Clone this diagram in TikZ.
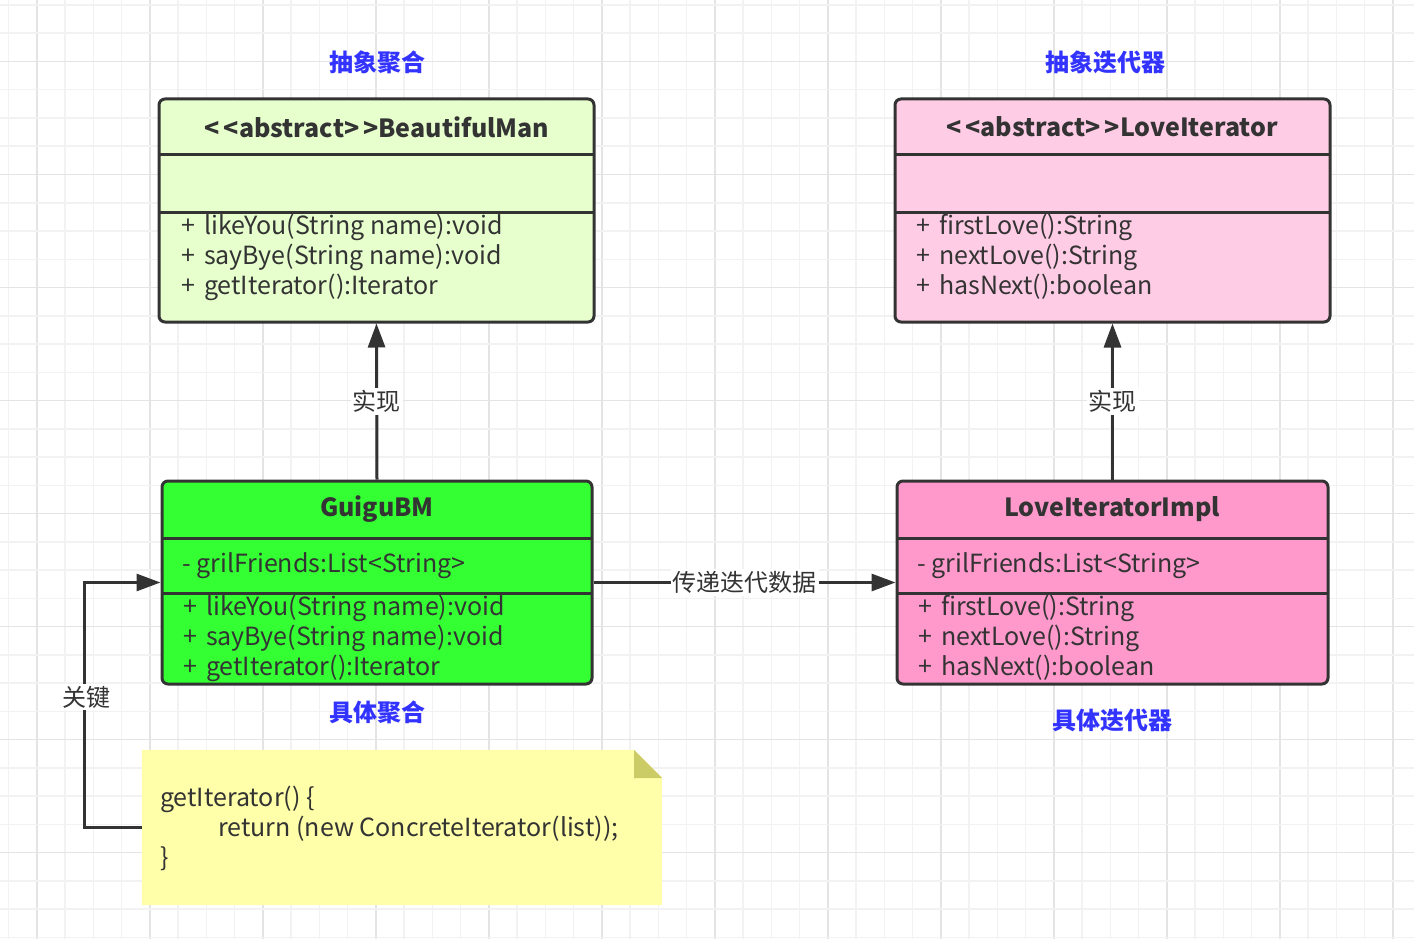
\documentclass[tikz,border=0pt]{standalone}
\usepackage{fontspec}
\setmainfont{Noto Sans CJK SC}
\usetikzlibrary{arrows.meta,positioning}
\definecolor{gridminor}{HTML}{F2F2F2}
\definecolor{gridmajor}{HTML}{E4E4E4}
\definecolor{umlline}{HTML}{333333}
\definecolor{abscls}{HTML}{E6FFCC}
\definecolor{absitr}{HTML}{FFCCE6}
\definecolor{concls}{HTML}{33FF33}
\definecolor{conitr}{HTML}{FF99CC}
\definecolor{notefill}{HTML}{FFFFAA}
\definecolor{notefold}{HTML}{CCCC66}
\definecolor{tagblue}{HTML}{3333FF}
\newcommand*{\fnt}{\fontsize{25}{30}\selectfont}
\newcommand*{\pl}{+\hspace{9pt}}
\tikzset{
  umlbox/.style={draw=umlline, line width=3pt, rounded corners=6pt, inner sep=0pt},
  umlsep/.style={draw=umlline, line width=3pt},
  umltitle/.style={font=\fnt\bfseries, text=umlline},
  umltext/.style={font=\fnt, text=umlline, align=left, anchor=west, inner sep=0pt},
  tag/.style={font=\fontsize{24}{28}\selectfont\bfseries, text=tagblue},
  link/.style={draw=umlline, line width=3pt, -{Triangle[length=24pt,width=17pt]}},
  linklabel/.style={font=\fontsize{24}{28}\selectfont, text=umlline, fill=white, inner sep=2pt},
}
\begin{document}
\begin{tikzpicture}[x=1pt, y=-1pt]
    \useasboundingbox (0,0) rectangle (1414,939);
    \fill [white] (0,0) rectangle (1414,939);
    % grid
    \foreach \i in {0,...,49} {
        \pgfmathtruncatemacro{\m}{mod(\i,4)}
        \ifnum\m=1 \def\gc{gridmajor}\else \def\gc{gridminor}\fi
        \draw [\gc, line width=1.5pt] ({8.5+28.25*\i},0) -- ++(0,939);
    }
    \foreach \j in {0,...,33} {
        \pgfmathtruncatemacro{\m}{mod(\j,4)}
        \ifnum\m=2 \def\gc{gridmajor}\else \def\gc{gridminor}\fi
        \draw [\gc, line width=1.5pt] (0,{5+28.25*\j}) -- ++(1414,0);
    }

    % abstract aggregate
    \node [umlbox, fill=abscls, minimum width=435pt, minimum height=223pt] (bm) at (376.5,210.5) {};
    \draw [umlsep] (159,155) -- (594,155) (159,212) -- (594,212);
    \node [umltitle] (bmname) at (377,127) {<\kern4pt<abstract>\kern4pt>BeautifulMan};
    \node [umltext] (bmops) at (181,257) {\pl likeYou(String name):void\\\pl sayBye(String name):void\\\pl getIterator():Iterator};
    \node [tag] (bmtag) at (377,62) {抽象聚合};

    % abstract iterator
    \node [umlbox, fill=absitr, minimum width=435pt, minimum height=223pt] (li) at (1112.5,210.5) {};
    \draw [umlsep] (895,155) -- (1330,155) (895,212) -- (1330,212);
    \node [umltitle] (liname) at (1112,127) {<\kern4pt<abstract>\kern4pt>LoveIterator};
    \node [umltext] (liops) at (916,257) {\pl firstLove():String\\\pl nextLove():String\\\pl hasNext():boolean};
    \node [tag] (litag) at (1105,62) {抽象迭代器};

    % concrete aggregate
    \node [umlbox, fill=concls, minimum width=430pt, minimum height=203pt] (gbm) at (377,582.5) {};
    \draw [umlsep] (162,538) -- (592,538) (162,593) -- (592,593);
    \node [umltitle] (gbmname) at (377,509) {GuiguBM};
    \node [umltext] (gbmattr) at (182,566) {- grilFriends:List<String>};
    \node [umltext] (gbmops) at (183,638) {\pl likeYou(String name):void\\\pl sayBye(String name):void\\\pl getIterator():Iterator};
    \node [tag] (gbmtag) at (377,712) {具体聚合};

    % concrete iterator
    \node [umlbox, fill=conitr, minimum width=431pt, minimum height=203pt] (lii) at (1112.5,582.5) {};
    \draw [umlsep] (897,538) -- (1328,538) (897,593) -- (1328,593);
    \node [umltitle] (liiname) at (1112,509) {LoveIteratorImpl};
    \node [umltext] (liiattr) at (917,566) {- grilFriends:List<String>};
    \node [umltext] (liiops) at (918,638) {\pl firstLove():String\\\pl nextLove():String\\\pl hasNext():boolean};
    \node [tag] (liitag) at (1112,720) {具体迭代器};

    % note
    \node [minimum width=520pt, minimum height=155pt, inner sep=0pt] (note) at (402,827.5) {};
    \fill [notefill] (note.north west) -- ++(492,0) -- ++(28,28) |- (note.south west) -- cycle;
    \fill [notefold] (634,750) -- (662,778) -- (634,778) -- cycle;
    \node [umltext] (code) at (160,828) {getIterator() \{\\\hspace*{58pt}return (new ConcreteIterator(list));\\\}};

    % connectors
    \draw [link] (gbm.north) -- (bm.south) node [linklabel, pos=0.5] {实现};
    \draw [link] (lii.north) -- (li.south) node [linklabel, pos=0.5] {实现};
    \draw [link] (gbm.east) -- (lii.west) node [linklabel, pos=0.5] {传递迭代数据};
    \draw [link] (note.west) -- ++(-57,0) coordinate (bend) -- (bend |- gbm.west) -- (gbm.west);
    \node [linklabel] (key) at (86,697) {关键};
\end{tikzpicture}
\end{document}
